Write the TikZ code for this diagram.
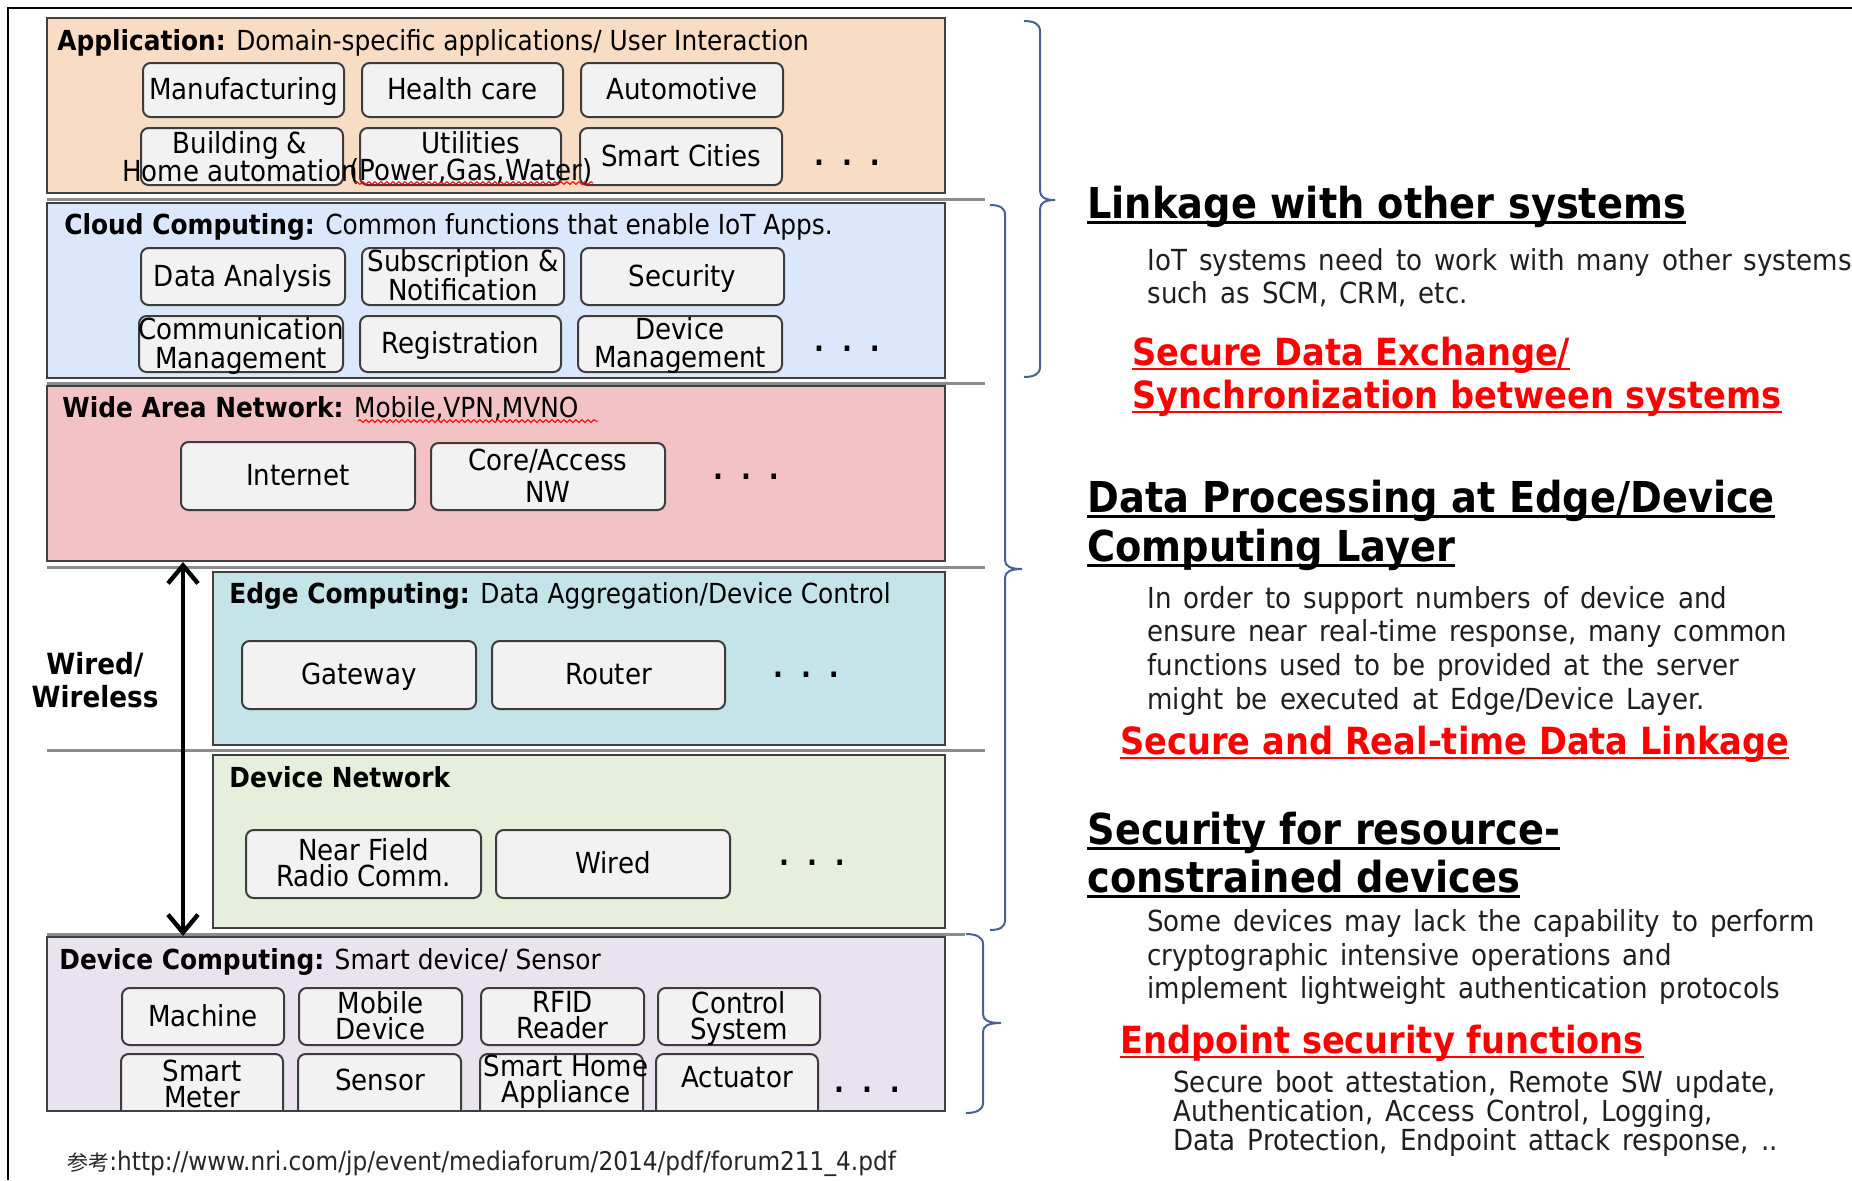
\documentclass[tikz,border=0pt]{standalone}
\usepackage{fontspec}
\setmainfont[FakeStretch=0.9]{DejaVu Sans}
\newfontfamily\cjk{Noto Sans CJK JP}
\usetikzlibrary{arrows.meta,decorations.pathmorphing}
\definecolor{appc}{RGB}{248,220,196}
\definecolor{cloudc}{RGB}{219,231,250}
\definecolor{wanc}{RGB}{242,194,197}
\definecolor{edgec}{RGB}{196,228,233}
\definecolor{devnc}{RGB}{230,239,220}
\definecolor{devcc}{RGB}{232,227,239}
\definecolor{boxc}{RGB}{242,242,242}
\definecolor{boxl}{RGB}{60,60,60}
\definecolor{layl}{RGB}{64,64,64}
\definecolor{brcc}{RGB}{72,98,145}
\definecolor{redt}{RGB}{255,0,0}
\newskip\bodyspace
\bodyspace=6pt plus 1pt
\newcommand\bodyfnt{\fontsize{14.5}{17}\selectfont\spaceskip=\bodyspace}
\newcommand\ctext[2]{\vbox{\baselineskip=#1\lineskiplimit=-\maxdimen\lineskip=0pt
  \halign{\hfil\strut##\hfil\cr #2\crcr}}}
\newcommand\ulh[1]{\setbox0=\hbox{#1}\rlap{\rule[-2.8pt]{\wd0}{1.3pt}}\box0}
\newcommand\ulr[1]{\setbox0=\hbox{#1}\rlap{\rule[-2.6pt]{\wd0}{1.1pt}}\box0}
\newcommand\ibx[5]{\node[ibox, minimum width={(#4-#2)*0.5pt}, minimum height={(#5-#3)*0.5pt}] (#1) at ({(#2+#4)/2},{(#3+#5)/2}) {};}
\newcommand\rbr[6]{\draw[brc] (#1,#3) .. controls ({#1+10},#3) and (#2,{#3+3}) .. (#2,{#3+10}) -- (#2,{#5-9}) .. controls (#2,{#5-3}) and ({#2+5},#5) .. (#6,#5) .. controls ({#2+5},#5) and (#2,{#5+3}) .. (#2,{#5+9}) -- (#2,{#4-10}) .. controls (#2,{#4-3}) and ({#1+10},#4) .. (#1,#4);}
\newcommand\dotrow{\textbf{.\hspace{9pt}.\hspace{9pt}.}}
\begin{document}
\begin{tikzpicture}[x=0.5pt,y=-0.5pt,
  lay/.style={draw=layl, line width=1pt, anchor=north west, inner sep=0pt, outer sep=0pt},
  ibox/.style={draw=boxl, fill=boxc, rounded corners=3.8pt, line width=1pt, inner sep=0pt},
  btext/.style={inner sep=0pt, yshift=-1.5pt, font=\fontsize{14.5}{14}\selectfont},
  hdr/.style={inner sep=0pt, anchor=base west, font=\fontsize{13.8}{16}\selectfont},
  dts/.style={inner sep=0pt, yshift=-1.5pt, font=\fontsize{14.5}{14}\selectfont},
  sepl/.style={draw=black!45, line width=1.5pt},
  brc/.style={draw=brcc, line width=1pt},
  head/.style={inner sep=0pt, anchor=base west, font=\fontsize{21.3}{24}\selectfont\bfseries},
  redh/.style={inner sep=0pt, anchor=base west, text=redt, font=\fontsize{18.7}{22}\selectfont\bfseries},
  body/.style={inner sep=0pt, anchor=base west, text=black!88, font=\bodyfnt},
  squig/.style={draw=red, line width=0.5pt, decorate, decoration={snake, amplitude=0.7pt, segment length=3pt}},
]
\useasboundingbox (0,0) rectangle (1852,1180);
\fill[white] (0,0) rectangle (1852,1180);
\draw[line width=1pt] (8,1180) -- (8,8) -- (1852,8);

% ---------- layers ----------
\node[lay, fill=appc, minimum width=449pt, minimum height=87.5pt] (app) at (47,18) {};
\node[lay, fill=cloudc, minimum width=449pt, minimum height=87.5pt] (cloud) at (47,203) {};
\node[lay, fill=wanc, minimum width=449pt, minimum height=87.5pt] (wan) at (47,386) {};
\node[lay, fill=edgec, minimum width=366pt, minimum height=86.5pt] (edge) at (213,572) {};
\node[lay, fill=devnc, minimum width=366pt, minimum height=86.5pt] (devn) at (213,755) {};
\node[lay, fill=devcc, minimum width=449pt, minimum height=87pt] (devc) at (47,937) {};

% separators
\draw[sepl] (47,199) -- (985,199);
\draw[sepl] (47,383) -- (985,383);
\draw[sepl] (47,567) -- (985,567);
\draw[sepl] (47,750) -- (985,750);
\draw[sepl] (47,934) -- (965,934);

% ---------- headers ----------
\node[hdr] (happ) at (57,50) {\textbf{Application:} Domain-specific applications/ User Interaction};
\node[hdr] (hcloud) at (64,234) {\textbf{Cloud Computing:} Common functions that enable IoT Apps.};
\node[hdr] (hwan) at (62,417) {\textbf{Wide Area Network:} Mobile,VPN,MVNO};
\node[hdr] (hedge) at (229,603) {\textbf{Edge Computing:} Data Aggregation/Device Control};
\node[hdr] (hdevn) at (229,787) {\textbf{Device Network}};
\node[hdr] (hdevc) at (59,969) {\textbf{Device Computing:} Smart device/ Sensor};
\draw[squig] (358,421) -- (598,421);

% ---------- application ----------
\ibx{m1}{143}{63}{344}{117}
\ibx{m2}{362}{63}{563}{117}
\ibx{m3}{581}{63}{783}{117}
\node[btext] (m1t) at (m1) {\ctext{14pt}{Manufacturing}};
\node[btext] (m2t) at (m2) {\ctext{14pt}{Health care}};
\node[btext] (m3t) at (m3) {\ctext{14pt}{Automotive}};
\ibx{m4}{141}{128}{343}{185}
\node[btext] (m4t) at (240,158) {\ctext{14pt}{Building \&\cr Home automation}};
\ibx{m5}{360}{128}{561}{185}
\ibx{m6}{580}{128}{782}{185}
\node[btext] (m5t) at (471,157) {\ctext{13.5pt}{Utilities\cr (Power,Gas,Water)}};
\node[btext] (m6t) at (m6) {\ctext{14pt}{Smart Cities}};
\draw[squig] (355,183) -- (593,183);
\node[dts] (dapp) at (847,160) {\dotrow};

% ---------- cloud ----------
\ibx{c1}{141}{248}{345}{305}
\ibx{c2}{362}{248}{564}{305}
\ibx{c3}{581}{248}{784}{305}
\ibx{c4}{139}{316}{343}{372}
\ibx{c5}{360}{316}{561}{372}
\ibx{c6}{578}{316}{782}{372}
\node[btext] (c1t) at (c1) {\ctext{14pt}{Data Analysis}};
\node[btext] (c2t) at (c2) {\ctext{14.5pt}{Subscription \&\cr Notification}};
\node[btext] (c3t) at (c3) {\ctext{14pt}{Security}};
\node[btext] (c4t) at (c4) {\ctext{14.5pt}{Communication\cr Management}};
\node[btext] (c5t) at (c5) {\ctext{14pt}{Registration}};
\node[btext] (c6t) at (c6) {\ctext{14pt}{Device\cr Management}};
\node[dts] (dcloud) at (847,346) {\dotrow};

% ---------- WAN ----------
\ibx{w1}{181}{442}{415}{510}
\ibx{w2}{431}{443}{665}{510}
\node[btext] (w1t) at (w1) {\ctext{14pt}{Internet}};
\node[btext] (w2t) at (w2) {\ctext{16pt}{Core/Access\cr NW}};
\node[dts] (dwan) at (746,474) {\dotrow};

% ---------- edge ----------
\ibx{e1}{242}{641}{476}{709}
\ibx{e2}{492}{641}{725}{709}
\node[btext] (e1t) at (e1) {\ctext{14pt}{Gateway}};
\node[btext] (e2t) at (e2) {\ctext{14pt}{Router}};
\node[dts] (dedge) at (806,672) {\dotrow};

% ---------- device network ----------
\ibx{n1}{246}{830}{481}{898}
\ibx{n2}{496}{830}{730}{898}
\node[btext] (n1t) at (n1) {\ctext{13pt}{Near Field\cr Radio Comm.}};
\node[btext] (n2t) at (n2) {\ctext{14pt}{Wired}};
\node[dts] (ddevn) at (812,860) {\dotrow};

% ---------- device computing ----------
\ibx{d1}{122}{988}{284}{1045}
\ibx{d2}{299}{988}{462}{1045}
\ibx{d3}{481}{988}{644}{1045}
\ibx{d4}{658}{988}{820}{1045}
\begin{scope}
\clip (47,937) rectangle (945,1111);
\ibx{d5}{121}{1054}{283}{1118}
\ibx{d6}{298}{1054}{461}{1118}
\ibx{d7}{480}{1054}{643}{1118}
\ibx{d8}{656}{1054}{818}{1118}
\end{scope}
\draw[draw=layl, line width=1pt] (devc.north west) rectangle (devc.south east);
\node[btext] (d1t) at (d1) {\ctext{13pt}{Machine}};
\node[btext] (d2t) at (d2) {\ctext{13pt}{Mobile\cr Device}};
\node[btext] (d3t) at (d3) {\ctext{13pt}{RFID\cr Reader}};
\node[btext] (d4t) at (d4) {\ctext{13pt}{Control\cr System}};
\node[btext] (d5t) at (202,1085) {\ctext{13pt}{Smart\cr Meter}};
\node[btext] (d6t) at (380,1081) {\ctext{13pt}{Sensor}};
\node[btext] (d7t) at (566,1080) {\ctext{13pt}{Smart Home\cr Appliance}};
\node[btext] (d8t) at (737,1078) {\ctext{13pt}{Actuator}};
\node[dts] (ddevc) at (867,1087) {\dotrow};

% ---------- wired / wireless arrow ----------
\coordinate (arT) at (183,562);
\coordinate (arB) at (183,936);
\draw[line width=2.2pt, {Straight Barb[length=9pt,width=15pt]}-{Straight Barb[length=9pt,width=15pt]}] (arT) -- (arB);
\node[inner sep=0pt, font=\fontsize{14.6}{16.5}\selectfont\bfseries] (ww) at (95,684) {\ctext{16.5pt}{Wired/\cr Wireless}};

% ---------- braces ----------
\rbr{1024}{1040}{21}{377}{200}{1055}
\rbr{990}{1005}{205}{930}{569}{1022}
\rbr{966}{983}{934}{1113}{1023}{1001}

% ---------- right text ----------
\node[head] (h1) at (1087,218) {\ulh{Linkage with other systems}};
\node[body] (b1a) at (1147,270) {IoT systems need to work with many other systems};
\node[body] (b1b) at (1147,303) {such as SCM, CRM, etc.};
\node[redh] (r1a) at (1132,365) {\ulr{Secure Data Exchange/}};
\node[redh] (r1b) at (1132,408) {\ulr{Synchronization between systems}};

\node[head] (h2a) at (1087,512) {\ulh{Data Processing at Edge/Device}};
\node[head] (h2b) at (1087,561) {\ulh{Computing Layer}};
\node[body] (b2a) at (1147,608) {In order to support numbers of device and};
\node[body] (b2b) at (1147,641) {ensure near real-time response, many common};
\node[body] (b2c) at (1147,675) {functions used to be provided at the server};
\node[body] (b2d) at (1147,709) {might be executed at Edge/Device Layer.};
\node[redh] (r2) at (1120,754) {\ulr{Secure and Real-time Data Linkage}};

\node[head] (h3a) at (1087,844) {\ulh{Security for resource-}};
\node[head] (h3b) at (1087,892) {\ulh{constrained devices}};
\node[body] (b3a) at (1147,931) {Some devices may lack the capability to perform};
\node[body] (b3b) at (1147,965) {cryptographic intensive operations and};
\node[body] (b3c) at (1147,998) {implement lightweight authentication protocols};
\node[redh] (r3) at (1120,1053) {\ulr{Endpoint security functions}};
\node[body] (b4a) at (1173,1092) {Secure boot attestation, Remote SW update,};
\node[body] (b4b) at (1173,1121) {Authentication, Access Control, Logging,};
\node[body] (b4c) at (1173,1150) {Data Protection, Endpoint attack response, ..};

% ---------- footer ----------
\node[inner sep=0pt, anchor=base west, text=black!85, font=\fontsize{12.9}{15}\selectfont] (foot) at (67,1170) {{\cjk\fontsize{10.5}{12}\selectfont 参考}:http://www.nri.com/jp/event/mediaforum/2014/pdf/forum211\_4.pdf};
\end{tikzpicture}
\end{document}
